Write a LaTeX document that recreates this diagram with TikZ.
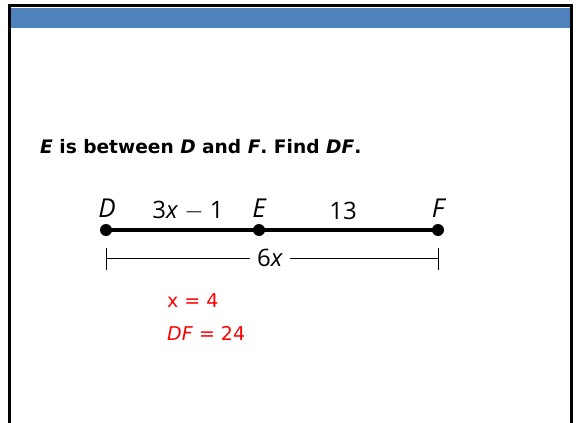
\documentclass[tikz,border=0pt]{standalone}
\usepackage{fontspec}
\setmainfont{DejaVu Sans}
\newfontfamily\figfont{Open Sans}
\definecolor{barblue}{RGB}{79,129,189}
\definecolor{ansred}{RGB}{255,0,0}
\begin{document}
\begin{tikzpicture}[x=1pt,y=-1pt,
  dotpt/.style={circle,fill=black,inner sep=0pt,minimum size=12pt},
  ptlabel/.style={font=\figfont\fontsize{26}{30}\selectfont\itshape,inner sep=0pt},
  seglabel/.style={font=\figfont\fontsize{24}{28}\selectfont,inner sep=0pt},
  anslabel/.style={font=\fontsize{19}{22}\selectfont,text=ansred,anchor=base west,inner sep=0pt}]
\useasboundingbox (0,0) rectangle (576,423);
\fill[white] (0,0) rectangle (576,423);
\fill[barblue] (9,8) rectangle (571,28);
\draw[line width=3pt] (9,423) -- (9,5.5) -- (571,5.5) -- (571,423);
\node[anchor=base west,inner sep=0pt,font=\bfseries\fontsize{18.6}{22}\selectfont] (title) at (40,153)
  {\textit{E} is between \textit{D} and \textit{F}. Find \textit{DF}.};
\node[dotpt] (D) at (106,230) {};
\node[dotpt] (E) at (259,230) {};
\node[dotpt] (F) at (438,230) {};
\draw[line width=3.2pt] (D.center) -- (E.center) -- (F.center);
\node[ptlabel] (lD) at (107,208) {D};
\node[ptlabel] (lE) at (259,208) {E};
\node[ptlabel] (lF) at (438,208) {F};
\node[seglabel] (s1) at (188,211) {3\textit{x} $-$ 1};
\node[seglabel] (s2) at (343,211) {13};
\coordinate (t1a) at (106,248);
\coordinate (t1b) at (106,270);
\coordinate (t2a) at (438,248);
\coordinate (t2b) at (438,270);
\coordinate (m1) at (106,258);
\coordinate (m2) at (438,258);
\draw[line width=0.9pt] (t1a) -- (t1b) (t2a) -- (t2b);
\node[seglabel,fill=white,inner xsep=7pt,inner ysep=2pt] (six) at (270,258) {6\textit{x}};
\draw[line width=0.9pt] (m1) -- (six.west) (six.east) -- (m2);
\node[anslabel] (a1) at (167,307) {x = 4};
\node[anslabel] (a2) at (167,340) {\textit{DF} = 24};
\end{tikzpicture}
\end{document}
